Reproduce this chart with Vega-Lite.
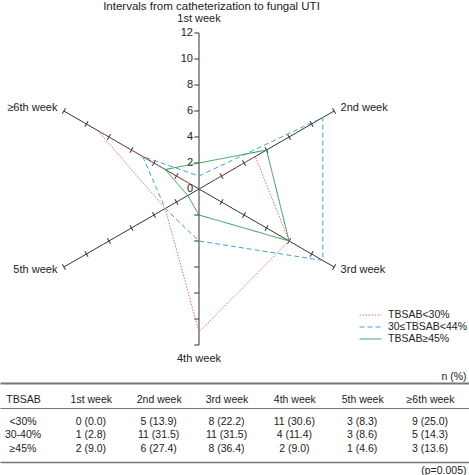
{
  "$schema": "https://vega.github.io/schema/vega-lite/v6.json",
  "padding": 0,
  "spacing": 11,
  "config": {
    "font": "Liberation Sans",
    "view": {"stroke": null},
    "text": {"font": "Liberation Sans", "color": "#222"}
  },
  "title": {
    "text": "Intervals from catheterization to fungal UTI",
    "fontSize": 11.5,
    "fontWeight": "normal",
    "color": "#222",
    "anchor": "middle",
    "dx": -23,
    "offset": 0
  },
  "datasets": {
    "counts": [
      {"group": "TBSAB<30%", "tbsab": "<30%", "week": "1st week", "n": 0, "pct": 0.0},
      {"group": "TBSAB<30%", "tbsab": "<30%", "week": "2nd week", "n": 5, "pct": 13.9},
      {"group": "TBSAB<30%", "tbsab": "<30%", "week": "3rd week", "n": 8, "pct": 22.2},
      {"group": "TBSAB<30%", "tbsab": "<30%", "week": "4th week", "n": 11, "pct": 30.6},
      {"group": "TBSAB<30%", "tbsab": "<30%", "week": "5th week", "n": 3, "pct": 8.3},
      {"group": "TBSAB<30%", "tbsab": "<30%", "week": "≥6th week", "n": 9, "pct": 25.0},
      {"group": "30≤TBSAB<44%", "tbsab": "30-40%", "week": "1st week", "n": 1, "pct": 2.8},
      {"group": "30≤TBSAB<44%", "tbsab": "30-40%", "week": "2nd week", "n": 11, "pct": 31.5},
      {"group": "30≤TBSAB<44%", "tbsab": "30-40%", "week": "3rd week", "n": 11, "pct": 31.5},
      {"group": "30≤TBSAB<44%", "tbsab": "30-40%", "week": "4th week", "n": 4, "pct": 11.4},
      {"group": "30≤TBSAB<44%", "tbsab": "30-40%", "week": "5th week", "n": 3, "pct": 8.6},
      {"group": "30≤TBSAB<44%", "tbsab": "30-40%", "week": "≥6th week", "n": 5, "pct": 14.3},
      {"group": "TBSAB≥45%", "tbsab": "≥45%", "week": "1st week", "n": 2, "pct": 9.0},
      {"group": "TBSAB≥45%", "tbsab": "≥45%", "week": "2nd week", "n": 6, "pct": 27.4},
      {"group": "TBSAB≥45%", "tbsab": "≥45%", "week": "3rd week", "n": 8, "pct": 36.4},
      {"group": "TBSAB≥45%", "tbsab": "≥45%", "week": "4th week", "n": 2, "pct": 9.0},
      {"group": "TBSAB≥45%", "tbsab": "≥45%", "week": "5th week", "n": 1, "pct": 4.6},
      {"group": "TBSAB≥45%", "tbsab": "≥45%", "week": "≥6th week", "n": 3, "pct": 13.6}
    ],
    "axes": [
      {"week": "1st week", "ticks": [0, 2, 4, 6, 8, 10, 12]},
      {"week": "2nd week", "ticks": [0, 2, 4, 6, 8, 10, 12]},
      {"week": "3rd week", "ticks": [0, 2, 4, 6, 8, 10, 12]},
      {"week": "4th week", "ticks": [0, 2, 4, 6, 8, 10, 12]},
      {"week": "5th week", "ticks": [0, 2, 4, 6, 8, 10, 12]},
      {"week": "≥6th week", "ticks": [0, 2, 4, 6, 8, 10, 12]}
    ]
  },
  "vconcat": [
    {
      "width": 469,
      "height": 353,
      "resolve": {"axis": {"x": "independent", "y": "independent"}},
      "layer": [
        {
          "data": {"name": "axes"},
          "transform": [
            {"calculate": "indexof(['1st week','2nd week','3rd week','4th week','5th week','≥6th week'], datum.week)", "as": "k"},
            {"calculate": "PI/2 - datum.k*PI/3", "as": "a"},
            {"calculate": "0", "as": "o"},
            {"calculate": "12*cos(datum.a)", "as": "ex"},
            {"calculate": "12*sin(datum.a)", "as": "ey"}
          ],
          "mark": {"type": "rule", "color": "#333", "strokeWidth": 1},
          "encoding": {
            "x": {
              "field": "o", "type": "quantitative",
              "scale": {"domain": [-15.3077, 20.7692], "nice": false, "zero": false},
              "axis": {
                "orient": "bottom", "offset": 18, "labels": false, "ticks": false, "grid": false,
                "domainColor": "#777", "domainWidth": 2,
                "title": "n (%)", "titleX": 466, "titleY": -7, "titleAlign": "right",
                "titleBaseline": "middle", "titleAngle": 0, "titleFontSize": 10.5,
                "titleFontWeight": "normal", "titleColor": "#222"
              }
            },
            "y": {
              "field": "o", "type": "quantitative",
              "scale": {"domain": [-13.538, 13.615], "nice": false, "zero": false},
              "axis": null
            },
            "x2": {"field": "ex"},
            "y2": {"field": "ey"}
          }
        },
        {
          "data": {"name": "axes"},
          "transform": [
            {"calculate": "indexof(['1st week','2nd week','3rd week','4th week','5th week','≥6th week'], datum.week)", "as": "k"},
            {"filter": "datum.k == 0 || datum.k == 3"},
            {"flatten": ["ticks"], "as": ["t"]},
            {"filter": "datum.t > 0"},
            {"calculate": "0", "as": "o"},
            {"calculate": "datum.k == 0 ? datum.t : -datum.t", "as": "ty"}
          ],
          "mark": {"type": "point", "shape": "M-1,0L0,0", "filled": false, "stroke": "#333", "strokeWidth": 1, "opacity": 1, "size": 90},
          "encoding": {
            "x": {"field": "o", "type": "quantitative", "axis": null},
            "y": {"field": "ty", "type": "quantitative", "axis": null}
          }
        },
        {
          "data": {"name": "axes"},
          "transform": [
            {"calculate": "indexof(['1st week','2nd week','3rd week','4th week','5th week','≥6th week'], datum.week)", "as": "k"},
            {"filter": "datum.k != 0 && datum.k != 3"},
            {"flatten": ["ticks"], "as": ["t"]},
            {"filter": "datum.t > 0"},
            {"calculate": "PI/2 - datum.k*PI/3", "as": "a"},
            {"calculate": "datum.t*cos(datum.a)", "as": "tx"},
            {"calculate": "datum.t*sin(datum.a)", "as": "ty"},
            {"calculate": "((-datum.a*180/PI) % 360 + 360) % 360", "as": "ang"}
          ],
          "mark": {"type": "point", "shape": "M0,-1L0,1", "filled": false, "stroke": "#333", "strokeWidth": 1, "opacity": 1, "size": 40},
          "encoding": {
            "x": {"field": "tx", "type": "quantitative", "axis": null},
            "y": {"field": "ty", "type": "quantitative", "axis": null},
            "angle": {"field": "ang", "type": "quantitative", "scale": null}
          }
        },
        {
          "data": {"name": "axes"},
          "transform": [
            {"filter": "datum.week == '1st week'"},
            {"flatten": ["ticks"], "as": ["t"]},
            {"calculate": "0", "as": "o"}
          ],
          "mark": {"type": "text", "align": "right", "baseline": "middle", "dx": -6, "fontSize": 11, "color": "#222"},
          "encoding": {
            "x": {"field": "o", "type": "quantitative", "axis": null},
            "y": {"field": "t", "type": "quantitative", "axis": null},
            "text": {"field": "t", "type": "quantitative"}
          }
        },
        {
          "data": {"name": "axes"},
          "transform": [
            {"calculate": "indexof(['1st week','2nd week','3rd week','4th week','5th week','≥6th week'], datum.week)", "as": "k"},
            {"filter": "datum.k == 0 || datum.k == 3"},
            {"calculate": "PI/2 - datum.k*PI/3", "as": "a"},
            {"calculate": "13.05*cos(datum.a)", "as": "lx"},
            {"calculate": "13.05*sin(datum.a)", "as": "ly"}
          ],
          "mark": {"type": "text", "align": "center", "baseline": "middle", "fontSize": 11, "color": "#222"},
          "encoding": {
            "x": {"field": "lx", "type": "quantitative", "axis": null},
            "y": {"field": "ly", "type": "quantitative", "axis": null},
            "text": {"field": "week", "type": "nominal"}
          }
        },
        {
          "data": {"name": "axes"},
          "transform": [
            {"calculate": "indexof(['1st week','2nd week','3rd week','4th week','5th week','≥6th week'], datum.week)", "as": "k"},
            {"filter": "datum.k == 1 || datum.k == 2"},
            {"calculate": "PI/2 - datum.k*PI/3", "as": "a"},
            {"calculate": "12.4*cos(datum.a)", "as": "lx"},
            {"calculate": "12.4*sin(datum.a)", "as": "ly"}
          ],
          "mark": {"type": "text", "align": "left", "baseline": "middle", "dx": 2, "fontSize": 11, "color": "#222"},
          "encoding": {
            "x": {"field": "lx", "type": "quantitative", "axis": null},
            "y": {"field": "ly", "type": "quantitative", "axis": null},
            "text": {"field": "week", "type": "nominal"}
          }
        },
        {
          "data": {"name": "axes"},
          "transform": [
            {"calculate": "indexof(['1st week','2nd week','3rd week','4th week','5th week','≥6th week'], datum.week)", "as": "k"},
            {"filter": "datum.k == 4 || datum.k == 5"},
            {"calculate": "PI/2 - datum.k*PI/3", "as": "a"},
            {"calculate": "12.4*cos(datum.a)", "as": "lx"},
            {"calculate": "12.4*sin(datum.a)", "as": "ly"}
          ],
          "mark": {"type": "text", "align": "right", "baseline": "middle", "dx": -2, "fontSize": 11, "color": "#222"},
          "encoding": {
            "x": {"field": "lx", "type": "quantitative", "axis": null},
            "y": {"field": "ly", "type": "quantitative", "axis": null},
            "text": {"field": "week", "type": "nominal"}
          }
        },
        {
          "data": {"name": "counts"},
          "transform": [
            {"calculate": "indexof(['1st week','2nd week','3rd week','4th week','5th week','≥6th week'], datum.week)", "as": "k"},
            {"calculate": "PI/2 - datum.k*PI/3", "as": "a"},
            {"calculate": "datum.n*cos(datum.a)", "as": "px"},
            {"calculate": "datum.n*sin(datum.a)", "as": "py"}
          ],
          "mark": {"type": "line", "interpolate": "linear-closed", "strokeWidth": 1},
          "encoding": {
            "x": {"field": "px", "type": "quantitative", "axis": null},
            "y": {"field": "py", "type": "quantitative", "axis": null},
            "order": {"field": "k", "type": "quantitative"},
            "color": {
              "field": "group", "type": "nominal",
              "scale": {"domain": ["TBSAB<30%", "30≤TBSAB<44%", "TBSAB≥45%"], "range": ["#e06c6c", "#3fa3d6", "#2e9a5c"]},
              "legend": {
                "orient": "none", "legendX": 359, "legendY": 297, "title": null,
                "symbolType": "stroke", "symbolSize": 484, "symbolStrokeWidth": 1, "clipHeight": 12,
                "labelFontSize": 10.5, "labelColor": "#222", "labelOffset": 6, "rowPadding": 0
              }
            },
            "strokeDash": {
              "field": "group", "type": "nominal",
              "scale": {"domain": ["TBSAB<30%", "30≤TBSAB<44%", "TBSAB≥45%"], "range": [[1.5, 1.5], [5, 3], [1, 0]]},
              "legend": {
                "orient": "none", "legendX": 359, "legendY": 297, "title": null,
                "symbolType": "stroke", "symbolSize": 484, "symbolStrokeWidth": 1, "clipHeight": 12,
                "labelFontSize": 10.5, "labelColor": "#222", "labelOffset": 6, "rowPadding": 0
              }
            }
          }
        }
      ]
    },
    {
      "width": 469,
      "height": 54,
      "data": {"name": "counts"},
      "resolve": {"axis": {"x": "independent"}},
      "layer": [
        {
          "transform": [
            {"filter": "datum.week == '1st week'"},
            {"calculate": "'TBSAB'", "as": "col"}
          ],
          "mark": {"type": "text", "fontSize": 10.5, "color": "#222", "baseline": "middle"},
          "encoding": {
            "x": {
              "field": "col", "type": "nominal",
              "scale": {"type": "point", "domain": ["TBSAB", "1st week", "2nd week", "3rd week", "4th week", "5th week", "≥6th week"], "padding": 0.457, "align": 0.371},
              "axis": {
                "orient": "top", "ticks": false, "labelPadding": 4, "labelFontSize": 10.5,
                "labelColor": "#222", "labelAngle": 0, "domainColor": "#777", "domainWidth": 1, "title": null
              }
            },
            "y": {
              "field": "tbsab", "type": "nominal",
              "scale": {"type": "point", "domain": ["<30%", "30-40%", "≥45%"], "padding": 1},
              "axis": null
            },
            "text": {"field": "tbsab", "type": "nominal"}
          }
        },
        {
          "transform": [
            {"calculate": "datum.n + ' (' + format(datum.pct, '.1f') + ')'", "as": "cell"}
          ],
          "mark": {"type": "text", "fontSize": 10.5, "color": "#222", "baseline": "middle"},
          "encoding": {
            "x": {
              "field": "week", "type": "nominal",
              "axis": {
                "orient": "bottom", "labels": false, "ticks": false, "domainColor": "#777", "domainWidth": 1.5,
                "title": "(p=0.005)", "titleAnchor": "end", "titleAlign": "right", "titleX": 466, "titlePadding": 3,
                "titleFontSize": 10.5, "titleFontWeight": "normal", "titleColor": "#222"
              }
            },
            "y": {"field": "tbsab", "type": "nominal", "axis": null},
            "text": {"field": "cell", "type": "nominal"}
          }
        }
      ]
    }
  ]
}
